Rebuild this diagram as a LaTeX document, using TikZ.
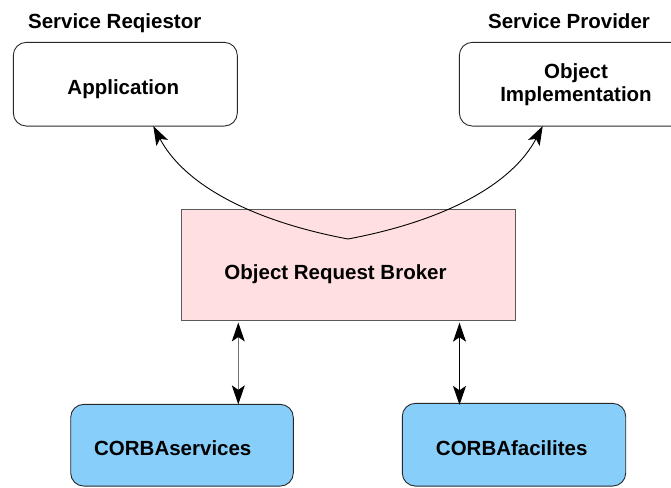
\documentclass[tikz,border=0pt]{standalone}
\usepackage{fontspec}
\setmainfont{Liberation Sans}
\usetikzlibrary{arrows.meta}

\definecolor{orbfill}{RGB}{255,223,225}
\definecolor{corbafill}{RGB}{135,206,250}
\definecolor{edgegray}{RGB}{40,40,40}

\tikzset{
  box/.style={draw=edgegray, line width=0.9pt, rounded corners=13pt,
    inner sep=0pt, outer sep=0pt, fill=white},
  orbbox/.style={draw=black!65, line width=0.9pt, fill=orbfill,
    inner sep=0pt, outer sep=0pt},
  corbabox/.style={box, fill=corbafill},
  lbl/.style={font=\fontsize{20.5}{23.4}\selectfont\bfseries, inner sep=0pt,
    anchor=base, align=center},
  headtip/.tip={Stealth[length=19pt,width=13pt,inset=4.5pt,color=black]},
  link/.style={line width=0.9pt, -headtip},
  duplex/.style={line width=0.9pt, headtip-headtip}
}

\begin{document}
\begin{tikzpicture}[x=1pt,y=-1pt]
  \useasboundingbox (0,0) rectangle (671,487);
  \clip (0,0) rectangle (671,487);

  % upper tier: requestor and provider
  \node[lbl] (reqtitle) at (114.7,28.3) {Service Reqiestor};
  \node[box, minimum width=224pt, minimum height=83.7pt] (app) at (125.3,84.2) {};
  \node[lbl] (apptext) at (123.3,94) {Application};

  \node[lbl] (provtitle) at (569,28.3) {Service Provider};
  \node[box, minimum width=232.7pt, minimum height=83.7pt] (impl) at (575.7,84.2) {};
  % base anchor of a two-line node sits on its last line
  \node[lbl] (impltext) at (576,101.7) {Object\\Implementation};

  % broker
  \node[orbbox, minimum width=334pt, minimum height=111.4pt] (orb) at (348,265) {};
  \node[lbl] (orbtext) at (335.5,279) {Object Request Broker};

  % lower tier
  \node[corbabox, minimum width=222.6pt, minimum height=81.7pt] (svc) at (182,445.2) {};
  \node[lbl] (svctext) at (172.8,455) {CORBAservices};
  \node[corbabox, minimum width=223.4pt, minimum height=82.7pt] (fac) at (514,444.7) {};
  \node[lbl] (factext) at (511.7,455.7) {CORBAfacilites};

  % request path through the broker
  \coordinate (cusp) at (348,239);
  \coordinate (lx) at (153.3,0);
  \coordinate (rx) at (542.7,0);
  \draw[link] (cusp) .. controls (248,220.2) and (183.1,182.8) .. (app.south -| lx);
  \draw[link] (cusp) .. controls (448,220.2) and (512.9,182.8) .. (impl.south -| rx);

  % broker to service tiers
  \coordinate (sx) at (238.3,0);
  \coordinate (fx) at (459.5,0);
  \draw[duplex, draw=black!55, shorten <=1.8pt] (orb.south -| sx) -- (svc.north -| sx);
  \draw[duplex, shorten <=2pt, shorten >=-1.5pt] (orb.south -| fx) -- (fac.north -| fx);
\end{tikzpicture}
\end{document}
